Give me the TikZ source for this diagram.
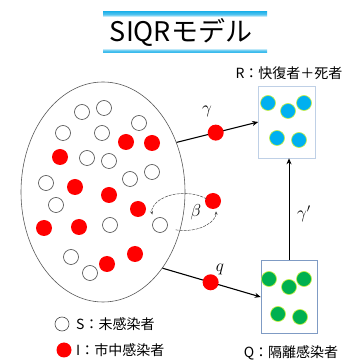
\documentclass[tikz,border=0pt]{standalone}
\usepackage{fontspec}
\newfontfamily\jp{Noto Sans CJK JP}
\usetikzlibrary{shapes.geometric,arrows.meta}
\definecolor{tb}{HTML}{29B5EB}
\definecolor{dotred}{HTML}{FF0000}
\definecolor{dotblue}{HTML}{00B0F0}
\definecolor{dotgreen}{HTML}{00B050}
\definecolor{rim}{HTML}{C8F03C}
\definecolor{boxline}{HTML}{7F9BC4}
\definecolor{boxlinelight}{HTML}{BFD0E6}
\pgfdeclareverticalshading{titleband}{100bp}{color(0bp)=(tb); color(25bp)=(tb); color(28bp)=(tb!80); color(31bp)=(white); color(69bp)=(white); color(72bp)=(tb!80); color(75bp)=(tb); color(100bp)=(tb)}
\tikzset{
  sdot/.style={circle, draw=black!70, line width=0.6pt, fill=white, minimum size=15pt, inner sep=0pt},
  idot/.style={circle, fill=dotred, minimum size=16pt, inner sep=0pt},
  rdot/.style={circle, fill=dotblue, draw=rim, line width=0.6pt, minimum size=15pt, inner sep=0pt},
  qdot/.style={circle, fill=dotgreen, draw=rim, line width=0.6pt, minimum size=15pt, inner sep=0pt},
  compbox/.style={draw=boxline, line width=0.6pt, fill=white, inner sep=0pt},
  flow/.style={line width=1.1pt, -{Stealth[length=6pt,width=5pt]}},
  lbl/.style={font=\jp\fontsize{14}{16}\selectfont, inner sep=0pt},
  greek/.style={font=\fontsize{17}{19}\selectfont, inner sep=0pt},
}
\begin{document}
\begin{tikzpicture}[x=1pt,y=1pt]
\useasboundingbox (0,0) rectangle (352,361);
% title
\shade[shading=titleband] (103,308) rectangle (267,349);
\node[font=\jp\fontsize{27}{30}\selectfont, inner sep=0pt] (title) at (181,329) {SIQRモデル};
% population
\node[ellipse, draw=black!65, line width=0.6pt, minimum width=164pt, minimum height=220pt, inner sep=0pt] (pop) at (103,169) {};
\foreach \x/\y [count=\k] in {82/249,104/253,139/238,63/228,102/228,87/203,109/200,152/189,130/182,46/178,56/156,110/136,71/104,90/88}
  \node[sdot] (s\k) at (\x,\y) {};
\node[sdot] (starget) at (160,136) {};
\foreach \x/\y [count=\k] in {126/219,152/218,60/204,75/174,109/166,138/152,44/133,79/134,135/107,107/97}
  \node[idot] (i\k) at (\x,\y) {};
% R box
\node[compbox, draw=boxlinelight, minimum width=57pt, minimum height=72pt] (rbox) at (287,239) {};
\node[lbl] (rlabel) at (289,288) {R：快復者＋死者};
\foreach \x/\y [count=\k] in {268/258,288/250,304/258,277/223,299/221}
  \node[rdot] (r\k) at (\x,\y) {};
% Q box
\node[compbox, minimum width=56pt, minimum height=73pt] (qbox) at (289,64) {};
\node[lbl] (qlabel) at (291,8) {Q：隔離感染者};
\foreach \x/\y [count=\k] in {269/82,289/74,304/82,278/47,300/44}
  \node[qdot] (q\k) at (\x,\y) {};
% flows
\draw[flow] (pop.34.6) -- node[idot, pos=0.48] (ig) {} (rbox.west);
\node[greek] (gam) at (207,250) {$\gamma$};
\draw[flow] (pop.-52) -- node[idot, pos=0.49] (iq) {} (qbox.west);
\node[greek] (qq) at (220,92) {$q$};
\draw[line width=0.9pt, -{Stealth[length=6pt,width=5pt]}] (qbox.north) -- (qbox.north |- rbox.south);
\node[greek] (gamp) at (304,147) {$\gamma'$};
% infection loop
\node[idot] (iinf) at (213,160) {};
\coordinate (lc) at (184,149);
\draw[black!70, line width=0.5pt, dash pattern=on 3pt off 1pt, -{Stealth[length=3.5pt,width=3pt]}] ([shift={(45:32pt and 18.5pt)}]lc) arc[start angle=45, end angle=188, x radius=32pt, y radius=18.5pt];
\draw[black!70, line width=0.5pt, dash pattern=on 3pt off 1pt, -{Stealth[length=3.5pt,width=3pt]}] ([shift={(255:32pt and 18.5pt)}]lc) arc[start angle=255, end angle=362, x radius=32pt, y radius=18.5pt];
\node[greek] (beta) at (196,149) {$\beta$};
% legend
\node[sdot, minimum size=14pt] (legs) at (62,37) {};
\node[lbl, anchor=west] (legstext) at (76,37) {S：未感染者};
\node[idot, minimum size=15pt] (legi) at (64,11) {};
\node[lbl, anchor=west] (legitext) at (76,11) {I：市中感染者};
\end{tikzpicture}
\end{document}
